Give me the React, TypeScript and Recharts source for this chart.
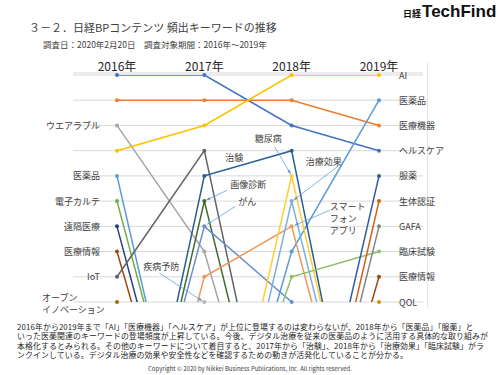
import React from 'react'
import { LineChart, Line, XAxis, YAxis, CartesianGrid, LabelList } from 'recharts'

const years = ['2016年', '2017年', '2018年', '2019年']

const keywords = [
  'ヘルスケア', '医療機器', 'ウエアラブル', 'AI', '医薬品', '電子カルテ', '遠隔医療', '医療情報',
  'IoT', 'オープンイノベーション', '治験', '画像診断', 'がん', 'スマートフォンアプリ', '疾病予防',
  '糖尿病', '治療効果', '臨床試験', '服薬', '生体認証', 'GAFA', 'QOL',
]

// rank per keyword (same order as keywords); >10 = dropped out of the top 10, null = unknown
const rank2016 = [1, 2, 3, 4, 5, 6, 7, 8, 9, 10, 21, 21, 20, 22, null, null, null, null, null, null, null, null]
const rank2017 = [1, 2, 8, 3, 20, 19, 20, 20, 4, null, 5, 6, 7, 9, 10, 20, 21, 19, null, null, null, null]
const rank2018 = [3, 2, 20, 1, 8, null, null, 21, 20, null, 4, 20, 10, 7, null, 5, 6, 9, 20, 21, 21, null]
const rank2019 = [4, 3, null, 1, 2, null, null, 9, null, null, 21, null, null, 20, null, 20, 20, 8, 5, 6, 7, 10]

const leftLabeled = ['ウエアラブル', '医薬品', '電子カルテ', '遠隔医療', '医療情報', 'IoT', 'オープンイノベーション']
const rightLabeled = ['AI', '医薬品', '医療機器', 'ヘルスケア', '服薬', '生体認証', 'GAFA', '臨床試験', '医療情報', 'QOL']

const rankTicks = [1, 2, 3, 4, 5, 6, 7, 8, 9, 10]

const colors = [
  '#4472C4', '#ED7D31', '#A5A5A5', '#FFC000', '#5B9BD5', '#70AD47', '#264478', '#9E480E',
  '#636363', '#997300', '#255E91', '#43682B', '#698ED0', '#F1975A', '#B7B7B7', '#FFCD33',
  '#7CAFDD', '#8CC168', '#335AA1', '#D26012', '#848484', '#CC9A00',
]

// callout text placement relative to the marked point
const callouts: Record<string, any> = {
  '治験': { index: 1, dx: 21, dy: -18, lines: ['治験'] },
  '画像診断': { index: 1, dx: 26, dy: -17, lines: ['画像診断'], from: [23, -11], to: [2, -1] },
  'がん': { index: 1, dx: 34, dy: -25, lines: ['がん'], from: [31, -20], to: [3, -2] },
  '疾病予防': { index: 1, dx: -61, dy: -36, lines: ['疾病予防'], from: [-45, -29], to: [-2, -1] },
  '糖尿病': { index: 2, dx: -37, dy: -37, lines: ['糖尿病'], from: [-17, -29], to: [-1, -2] },
  '治療効果': { index: 2, dx: 14, dy: -40, lines: ['治療効果'], from: [49, -37], to: [2, -1] },
  'スマートフォンアプリ': { index: 2, dx: 38, dy: -20, lines: ['スマート', 'フォン', 'アプリ'], from: [38, -16], to: [3, -1] },
}

const byYear = [rank2016, rank2017, rank2018, rank2019]
const data = years.map((year, i) => {
  const row: any = { year }
  keywords.forEach((k, j) => { row[k] = byYear[i][j] })
  return row
})

const LABEL = '#404040'
const FONT = "'Noto Sans CJK JP', 'Noto Sans', sans-serif"

function arrowHead(fx: number, fy: number, tx: number, ty: number) {
  const len = Math.hypot(tx - fx, ty - fy) || 1
  const ux = (tx - fx) / len
  const uy = (ty - fy) / len
  const bx = tx - ux * 4
  const by = ty - uy * 4
  return `${tx},${ty} ${bx - uy * 1.6},${by + ux * 1.6} ${bx + uy * 1.6},${by - ux * 1.6}`
}

const makeLabel = (name: string, color: string) => (props: any) => {
  const vb = props.viewBox || {}
  const x = props.x ?? vb.x
  const y = props.y ?? vb.y
  const { value, index } = props
  if (value == null || x == null || y == null) return null
  const els: any[] = []
  if (value <= 10) els.push(<circle key="d" cx={x} cy={y} r={2} fill={color} />)

  if (index === 0 && leftLabeled.includes(name)) {
    if (name === 'オープンイノベーション') {
      els.push(
        <text key="l" x={x - 75} y={y} fontSize={9} fill={LABEL} fontFamily={FONT} dominantBaseline="central">
          <tspan x={x - 75} dy={-5}>オープン</tspan>
          <tspan x={x - 75} dy={12}>イノベーション</tspan>
        </text>
      )
    } else {
      els.push(
        <text key="l" x={x - 17} y={y} textAnchor="end" dominantBaseline="central" fontSize={9} fill={LABEL} fontFamily={FONT}>
          {name}
        </text>
      )
    }
  }
  if (index === 3 && rightLabeled.includes(name)) {
    els.push(
      <text key="r" x={x + 20} y={y} dominantBaseline="central" fontSize={9} fill={LABEL} fontFamily={FONT}>
        {name}
      </text>
    )
  }
  const c = callouts[name]
  if (c && c.index === index) {
    if (c.from) {
      const fx = x + c.from[0], fy = y + c.from[1], tx = x + c.to[0], ty = y + c.to[1]
      els.push(<line key="cl" x1={fx} y1={fy} x2={tx} y2={ty} stroke="#5B9BD5" strokeWidth={0.75} />)
      els.push(<polygon key="ca" points={arrowHead(fx, fy, tx, ty)} fill="#5B9BD5" />)
    }
    c.lines.forEach((t: string, i: number) => {
      els.push(
        <text key={'c' + i} x={x + c.dx} y={y + c.dy + i * 12} dominantBaseline="central" fontSize={9} fill={LABEL} fontFamily={FONT}>
          {t}
        </text>
      )
    })
  }
  return <g>{els}</g>
}

const YearTick = ({ x, y, payload }: any) => (
  <text x={x} y={y} dy={6} textAnchor="middle" fontSize={12} fill="#262626" fontFamily={FONT}>
    {payload.value}
  </text>
)

const paragraph = [
  '2016年から2019年まで「AI」「医療機器」「ヘルスケア」が上位に登場するのは変わらないが、2018年から「医薬品」「服薬」と',
  'いった医薬関連のキーワードの登場頻度が上昇している。今後、デジタル治療を従来の医薬品のように活用する具体的な取り組みが',
  '本格化するとみられる。その他のキーワードについて着目すると、2017年から「治験」、2018年から「治療効果」「臨床試験」がラ',
  'ンクインしている。デジタル治療の効果や安全性などを確認するための動きが活発化していることが分かる。',
]

export default function App() {
  return (
    <div style={{ position: 'absolute', left: 0, top: 0, width: 500, height: 375, background: '#fff', fontFamily: FONT, overflow: 'hidden' }}>
      <div style={{ position: 'absolute', left: 403, top: 2, display: 'flex', alignItems: 'baseline', whiteSpace: 'nowrap', color: '#111' }}>
        <span style={{ fontSize: 9, fontWeight: 700 }}>日経</span>
        <span style={{ fontSize: 17, fontWeight: 700, fontFamily: "'Liberation Sans', Arial, sans-serif", marginLeft: 1 }}>TechFind</span>
      </div>
      <div style={{ position: 'absolute', left: 29, top: 22, fontSize: 11, lineHeight: 1, color: LABEL, whiteSpace: 'nowrap' }}>
        ３－２．日経BPコンテンツ 頻出キーワードの推移
      </div>
      <div style={{ position: 'absolute', left: 43, top: 40, fontSize: 8.5, lineHeight: 1, color: LABEL, whiteSpace: 'nowrap' }}>
        調査日：2020年2月20日　調査対象期間：2016年～2019年
      </div>
      <div style={{ position: 'absolute', left: 427, top: 62, width: 1, height: 246, background: '#e6e6e6' }} />
      <div style={{ position: 'absolute', left: 0, top: 0 }}>
        <LineChart width={500} height={320} data={data} margin={{ top: 55, right: 77, bottom: 18, left: 73 }}>
          <CartesianGrid vertical={false} stroke="#d9d9d9" />
          <XAxis
            dataKey="year"
            orientation="top"
            height={18}
            axisLine={false}
            tickLine={false}
            padding={{ left: 44, right: 44 }}
            tick={<YearTick />}
            interval={0}
          />
          <YAxis type="number" domain={[1, 10]} reversed allowDataOverflow ticks={rankTicks} hide padding={{ top: 2, bottom: 0 }} />
          {keywords.map((k, i) => (
            <Line
              key={k}
              dataKey={k}
              stroke={colors[i]}
              strokeWidth={1.5}
              dot={false}
              activeDot={false}
              isAnimationActive={false}
            >
              <LabelList content={makeLabel(k, colors[i])} />
            </Line>
          ))}
        </LineChart>
      </div>
      <div style={{ position: 'absolute', left: 17, top: 322, fontSize: 7.9, lineHeight: '9.3px', color: '#262626', whiteSpace: 'nowrap', letterSpacing: 0.1 }}>
        {paragraph.map((p, i) => <div key={i} style={{ height: 9.3 }}>{p}</div>)}
      </div>
      <div style={{ position: 'absolute', left: 0, width: 500, top: 366, textAlign: 'center', fontSize: 6, lineHeight: 1, color: LABEL, whiteSpace: 'nowrap' }}>
        Copyright © 2020 by Nikkei Business Publications, Inc.  All rights reserved.
      </div>
    </div>
  )
}
